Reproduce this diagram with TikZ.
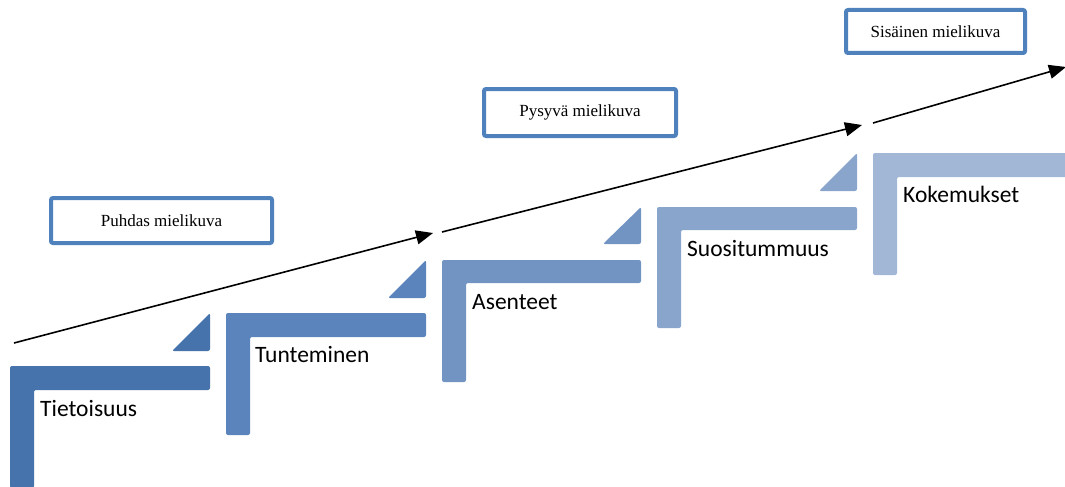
\documentclass[tikz,border=0pt]{standalone}
\usepackage{fontspec}
\setmainfont{Carlito}
\newfontfamily\boxfont{Liberation Serif}
\usepackage{tikz}
\usetikzlibrary{arrows.meta}

\definecolor{stepA}{HTML}{4673AB}
\definecolor{stepB}{HTML}{5A84BB}
\definecolor{stepC}{HTML}{7294C3}
\definecolor{stepD}{HTML}{8AA5CC}
\definecolor{stepE}{HTML}{A2B6D6}
\definecolor{frameblue}{HTML}{4F81BD}

\begin{document}
\begin{tikzpicture}[
  x=1pt,y=-1pt,
  stair/.style={rounded corners=2pt},
  wedge/.style={rounded corners=2pt},
  steplabel/.style={anchor=base west,inner sep=0pt,font=\fontsize{23.5}{26}\selectfont},
  idea/.style={draw=frameblue,line width=4pt,rounded corners=2pt,fill=white,
    font=\boxfont\fontsize{17}{19}\selectfont},
  arr/.style={-{Triangle[length=17pt,width=14pt]},line width=1.6pt},
]
  \clip (0,0) rectangle (1065,487);
  % stairs, bottom to top
  \fill[stair,stepA] (10,366) -- ++(200,0) -- ++(0,24) -- ++(-176,0) -- ++(0,98) -- ++(-24,0) -- cycle;
  \fill[stair,stepB] (226,313) -- ++(200,0) -- ++(0,24) -- ++(-176,0) -- ++(0,98) -- ++(-24,0) -- cycle;
  \fill[stair,stepC] (442,260) -- ++(199,0) -- ++(0,23) -- ++(-175,0) -- ++(0,99) -- ++(-24,0) -- cycle;
  \fill[stair,stepD] (657,207) -- ++(200,0) -- ++(0,23) -- ++(-176,0) -- ++(0,98) -- ++(-24,0) -- cycle;
  \fill[stair,stepE] (873,153) -- ++(200,0) -- ++(0,24) -- ++(-176,0) -- ++(0,98) -- ++(-24,0) -- cycle;
  % wedges above each tread
  \fill[wedge,stepA] (172,351) -- (210,351) -- (210,313) -- cycle;
  \fill[wedge,stepB] (388,298) -- (426,298) -- (426,260) -- cycle;
  \fill[wedge,stepC] (603,244) -- (641,244) -- (641,207) -- cycle;
  \fill[wedge,stepD] (819,191) -- (857,191) -- (857,153) -- cycle;
  % stair labels
  \node[steplabel] (tieto) at (40,416) {Tietoisuus};
  \node[steplabel] (tunte) at (255,362) {Tunteminen};
  \node[steplabel] (asent) at (472,309) {Asenteet};
  \node[steplabel] (suosi) at (687,256) {Suositummuus};
  \node[steplabel] (kokem) at (903,202) {Kokemukset};
  % image boxes
  \node[idea,minimum width=221pt,minimum height=45pt] (puhdas) at (161.5,220.5) {Puhdas mielikuva};
  \node[idea,minimum width=192pt,minimum height=47pt] (pysyva) at (580,112.5) {Pysyvä mielikuva};
  \node[idea,minimum width=179pt,minimum height=43pt] (sisainen) at (935.5,31.5) {Sisäinen mielikuva};
  % rising arrow in three parts
  \coordinate (a0) at (14,343);
  \coordinate (a1) at (433,233);
  \coordinate (b0) at (442,232);
  \coordinate (b1) at (862,125);
  \coordinate (c0) at (873,123);
  \coordinate (c1) at (1066,67);
  \draw[arr] (a0) -- (a1);
  \draw[arr] (b0) -- (b1);
  \draw[arr] (c0) -- (c1);
\end{tikzpicture}
\end{document}
